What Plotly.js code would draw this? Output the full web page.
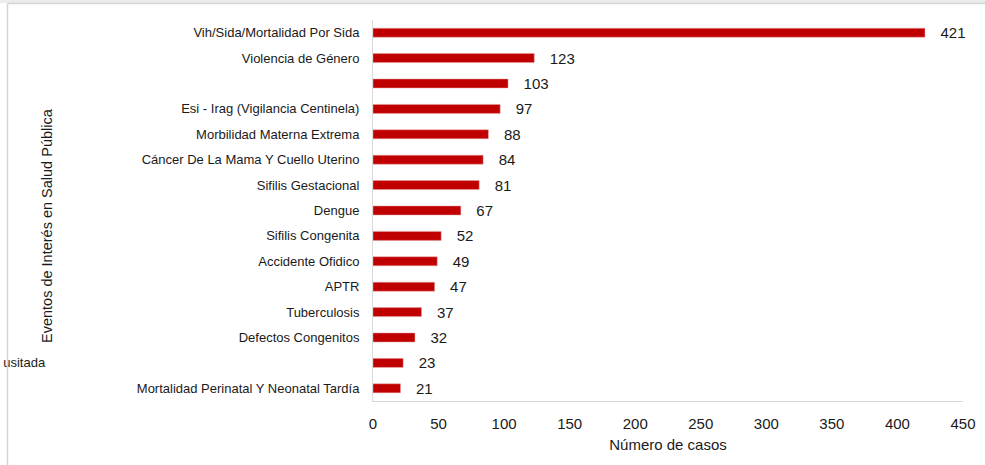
<!DOCTYPE html>
<html>
<head>
<meta charset="utf-8">
<script src="https://cdn.plot.ly/plotly-3.0.1.min.js"></script>
<style>html,body{margin:0;padding:0;background:#fff;}#chart{width:985px;height:465px;}</style>
</head>
<body>
<div id="chart"></div>
<script>
const categories = [
  "Vih/Sida/Mortalidad Por Sida",
  "Violencia de Género",
  "",
  "Esi - Irag (Vigilancia Centinela)",
  "Morbilidad Materna Extrema",
  "Cáncer De La Mama Y Cuello Uterino",
  "Sifilis Gestacional",
  "Dengue",
  "Sifilis Congenita",
  "Accidente Ofidico",
  "APTR",
  "Tuberculosis",
  "Defectos Congenitos",
  "usitada",
  "Mortalidad Perinatal Y Neonatal Tardía"
];
const casos = [421, 123, 103, 97, 88, 84, 81, 67, 52, 49, 47, 37, 32, 23, 21];
const xTicks = [0, 50, 100, 150, 200, 250, 300, 350, 400, 450];

const positions = categories.map((c, i) => i);
const tickText = categories.map((c, i) => i === 13 ? c + '\u00a0'.repeat(87) : c);

const L = 373, R = 963, T = 20, B = 401;
function px(x) { return (x - L) / (R - L); }
function py(y) { return (B - y) / (B - T); }

const regular = '"Liberation Sans", Arial, sans-serif';

const trace = {
  type: 'bar',
  orientation: 'h',
  x: casos,
  y: positions,
  marker: { color: '#C00000', line: { color: '#e9a3a3', width: 0.5 } },
  text: casos.map(v => '\u00a0\u00a0\u00a0' + v),
  textposition: 'outside',
  constraintext: 'none',
  textfont: { family: regular, size: 15, color: '#1a1a1a' },
  cliponaxis: false,
  hoverinfo: 'none'
};

const layout = {
  width: 985, height: 465,
  margin: { l: L, r: 985 - R, t: T, b: 465 - B, pad: 0 },
  paper_bgcolor: '#ffffff',
  plot_bgcolor: '#ffffff',
  showlegend: false,
  bargap: 0.645,
  font: { family: regular, color: '#1a1a1a' },
  xaxis: {
    range: [0, 450],
    tickvals: xTicks,
    ticktext: xTicks.map(String),
    showgrid: false,
    zeroline: false,
    showline: true,
    linecolor: '#d9d9d9',
    linewidth: 1,
    ticks: '',
    ticklabelstandoff: 9,
    tickfont: { family: regular, size: 15, color: '#1a1a1a' },
    title: { text: 'Número de casos', font: { family: regular, size: 15, color: '#1a1a1a' }, standoff: 8 },
    automargin: false
  },
  yaxis: {
    range: [14.5, -0.5],
    tickvals: positions,
    ticktext: tickText,
    showgrid: false,
    zeroline: false,
    showline: true,
    linecolor: '#d9d9d9',
    linewidth: 1,
    ticks: '',
    ticklabelstandoff: 10,
    tickfont: { family: regular, size: 13, color: '#1a1a1a' },
    automargin: false
  },
  annotations: [{
    text: 'Eventos de Interés en Salud Pública',
    xref: 'paper', yref: 'paper',
    x: px(47), y: py(226),
    xanchor: 'center', yanchor: 'middle',
    textangle: -90,
    showarrow: false,
    font: { family: regular, size: 14.5, color: '#1a1a1a' }
  }],
  shapes: [
    { type: 'rect', xref: 'paper', yref: 'paper', x0: px(0), x1: px(985), y0: py(3), y1: py(0), fillcolor: '#ececec', line: { width: 0 }, layer: 'below' },
    { type: 'line', xref: 'paper', yref: 'paper', x0: px(7.5), x1: px(985), y0: py(3.5), y1: py(3.5), line: { color: '#d4d4d4', width: 1.5 } },
    { type: 'line', xref: 'paper', yref: 'paper', x0: px(7.5), x1: px(7.5), y0: py(3.5), y1: py(465), line: { color: '#d4d4d4', width: 1.5 } }
  ]
};

Plotly.newPlot('chart', [trace], layout, { displayModeBar: false, staticPlot: true });
</script>
</body>
</html>
